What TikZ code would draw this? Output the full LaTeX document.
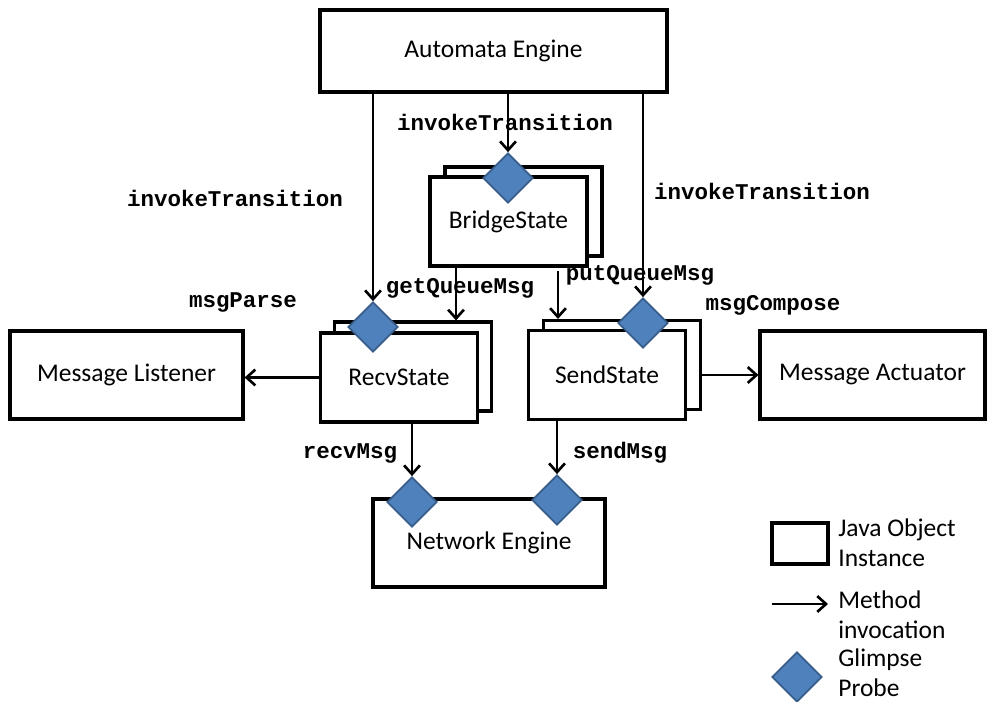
\documentclass[tikz,border=0pt]{standalone}
\usepackage{fontspec}
\setmainfont{Carlito}
\newfontfamily\probefont{Liberation Mono}
\usetikzlibrary{shapes.geometric,arrows.meta}
\definecolor{probeblue}{RGB}{79,129,189}
\definecolor{probeedge}{RGB}{56,93,138}
\begin{document}
\begin{tikzpicture}[x=0.02cm,y=-0.02cm,
	obj/.style={draw, line width=1.8pt, fill=white, font=\fontsize{14.5}{17}\selectfont, align=center},
	state/.style={obj, minimum width=3.14cm, minimum height=1.78cm},
	probe/.style={diamond, draw=probeedge, fill=probeblue, line width=1pt, minimum width=1cm, minimum height=1cm, inner sep=0pt},
	call/.style={line width=1.5pt, -{Straight Barb[length=5pt,width=9pt,line width=1.5pt]}},
	meth/.style={font=\probefont\bfseries\fontsize{12.8}{14}\selectfont},
	legend/.style={anchor=west, align=left, inner sep=0pt, font=\fontsize{14.5}{17}\selectfont}]
	\useasboundingbox (0,0) rectangle (987,702);
	\begin{scope}
	  % oggetti
	  \node[obj, minimum width=6.94cm, minimum height=1.64cm] (auto) at (493.5,51) {Automata Engine};
	  \node[state] (bridgeB) at (523.5,211.5) {}; % copia dietro
	  \node[state] (bridge) at (508.5,221.5) {BridgeState};
	  \node[state] (recvB) at (413,366.5) {};
	  \node[state] (recv) at (399,377.5) {RecvState};
	  \node[state] (sendB) at (622,365) {};
	  \node[state] (send) at (607,375) {SendState};
	  \node[obj, minimum width=4.66cm, minimum height=1.76cm] (listener) at (126.5,375) {Message Listener};
	  \node[obj, minimum width=4.5cm, minimum height=1.76cm] (actuator) at (872.5,375) {Message Actuator};
	  \node[obj, minimum width=4.64cm, minimum height=1.76cm] (network) at (489,543) {Network Engine};

	  % sonde
	  \node[probe] (pBridge) at (508,178) {};
	  \node[probe] (pRecv) at (373,327) {};
	  \node[probe] (pSend) at (643,323) {};
	  \node[probe] (pNetR) at (412,502) {};
	  \node[probe] (pNetS) at (557,500) {};

	  % chiamate
	  \draw[call] (auto.south -| pRecv) -- (pRecv.north);
	  \draw[call] (auto.south -| pBridge) -- (pBridge.north);
	  \draw[call] (auto.south -| pSend) -- (pSend.north);
	  \draw[call] ([xshift=-1.05cm]bridge.south) -- ([xshift=-1.05cm]bridge.south |- recvB.north);
	  \draw[call] ([xshift=0.99cm,yshift=-2pt]bridge.south) -- ([xshift=0.99cm]bridge.south |- sendB.north);
	  \draw[call] (recv.south -| pNetR) -- (pNetR.north);
	  \draw[call] (send.south -| pNetS) -- (pNetS.north);
	  \draw[call] (recv.west) -- (recv.west -| listener.east);
	  \draw[call] (sendB.east |- actuator.west) -- (actuator.west);

	  % etichette
	  \node[meth] (lblInvB) at (505,122) {invokeTransition};
	  \node[meth] (lblInvR) at (235,198) {invokeTransition};
	  \node[meth] (lblInvS) at (762,191) {invokeTransition};
	  \node[meth] (lblGet) at (460,288) {getQueueMsg};
	  \node[meth] (lblPut) at (640,275) {putQueueMsg};
	  \node[meth] (lblParse) at (243,302) {msgParse};
	  \node[meth] (lblCompose) at (773,305) {msgCompose};
	  \node[meth] (lblRecv) at (350,453) {recvMsg};
	  \node[meth] (lblSend) at (620,453) {sendMsg};

	  % legenda
	  \node[obj, minimum width=1.12cm, minimum height=0.82cm] (keyObj) at (800,543.5) {};
	  \node[legend] (keyObjTxt) at (838,542.5) {Java Object\\Instance};
	  \coordinate (keyCallA) at (772,604);
	  \coordinate (keyCallB) at (828,604);
	  \draw[call] (keyCallA) -- (keyCallB);
	  \node[legend] (keyCallTxt) at (838,615) {Method\\invocation};
	  \node[probe] (keyProbe) at (797,677) {};
	  \node[legend] (keyProbeTxt) at (838,673) {Glimpse\\Probe};
	\end{scope}
\end{tikzpicture}
\end{document}
